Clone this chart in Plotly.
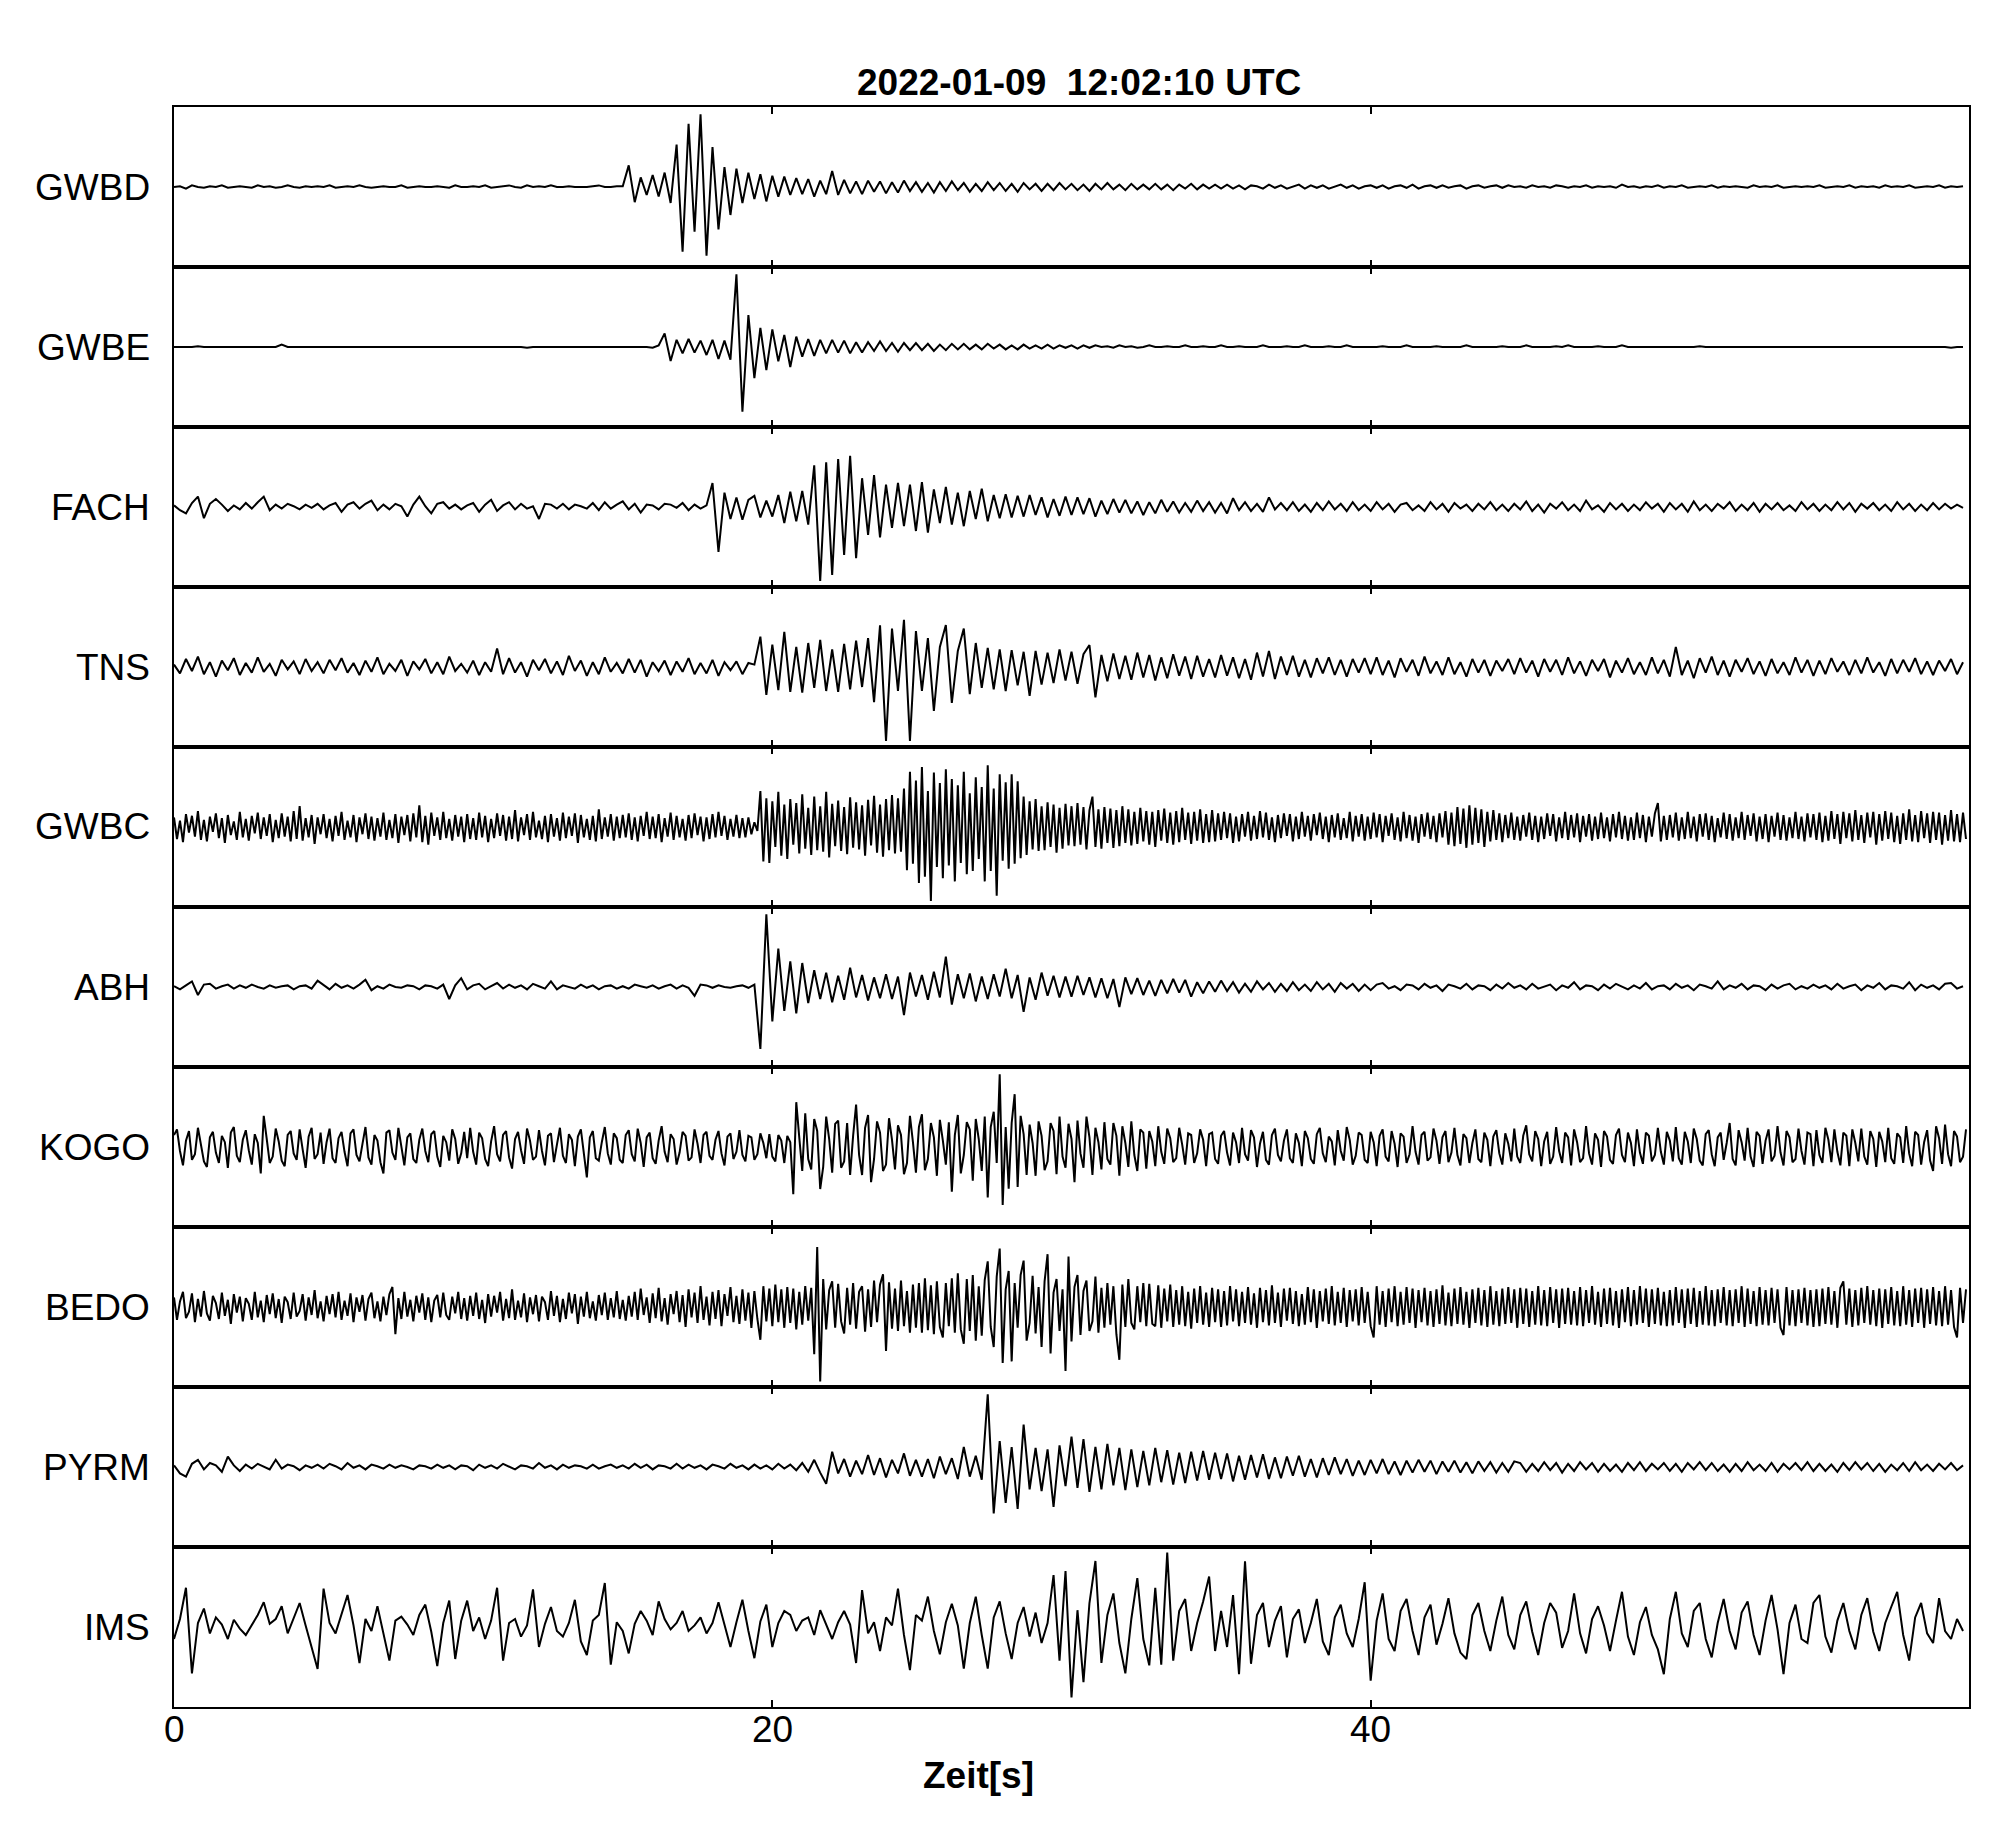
import numpy as np
import plotly.graph_objects as go
from plotly.subplots import make_subplots

T_END = 60.0  # seconds covered by every trace; samples are evenly spread over it

STATIONS = ["GWBD", "GWBE", "FACH", "TNS", "GWBC", "ABH", "KOGO", "BEDO", "PYRM", "IMS"]
TITLE = "2022-01-09  12:02:10 UTC"
XLABEL = "Zeit[s]"
XTICKS = [0, 20, 40]

# ---- traces (10 = half a panel) ----
GWBD = [
 0, 0.1, -0.2, 0.2, 0, -0.1, 0.1, 0, 0.2, -0.1, 0, 0.1, 0, -0.1, 0.2, 0, 0.1, -0.1, 0, 0.2, 0, -0.1, 0.1, 0, 0.1,
 0, 0.2, -0.1, 0, 0.1, 0, 0.2, 0, -0.1, 0, 0.1, 0, 0, 0.2, -0.1, 0, 0.1, 0, 0, 0.1, 0, -0.1, 0.2, 0, 0,
 0.1, 0, 0.2, -0.1, 0, 0.1, 0.2, 0, -0.1, 0.2, 0, 0.1, 0, 0.2, 0, 0, 0.1, 0, 0, 0, 0.1, 0.2, 0, 0, 0.1,
 0.1, 2.7, -1.9, 1.2, -1.0, 1.5, -1.2, 1.8, -2.0, 5.3, -8.1, 7.9, -5.6, 9.1, -8.6, 5.0, -5.3, 2.5, -3.5, 2.3, -2.0, 1.8, -1.5, 1.6, -1.8,
 1.4, -1.2, 1.3, -1.0, 1.1, -0.9, 1.0, -1.2, 0.8, -0.9, 2.0, -1.0, 0.9, -0.8, 0.7, -0.9, 0.8, -0.6, 0.7, -0.8, 0.6, -0.7, 0.8, -0.5, 0.6,
 -0.6, 0.5, -0.7, 0.6, -0.5, 0.7, -0.4, 0.5, -0.6, 0.4, -0.5, 0.6, -0.4, 0.5, -0.5, 0.4, -0.6, 0.5, -0.3, 0.4, -0.5, 0.4, -0.4, 0.5, -0.3,
 0.4, -0.4, 0.3, -0.5, 0.4, -0.3, 0.5, -0.3, 0.3, -0.4, 0.4, -0.3, 0.3, -0.3, 0.4, -0.3, 0.3, -0.4, 0.3, -0.2, 0.4, -0.3, 0.3, -0.2, 0.3,
 -0.2, 0.3, -0.2, 0.2, -0.3, 0.2, 0.1, -0.2, 0.3, -0.1, 0.2, -0.2, 0.1, 0.3, -0.2, 0.2, -0.1, 0.2, -0.2, 0.1, 0.3, -0.1, 0.2, -0.2, 0.1,
 0.2, -0.1, 0.2, -0.2, 0.1, 0.2, -0.1, 0.3, -0.2, 0.1, 0.2, -0.1, 0.2, -0.1, 0.1, 0.2, -0.2, 0.1, 0.2, -0.1, 0.1, 0.2, -0.1, 0.2, 0,
 0.1, -0.1, 0.2, 0, 0.1, -0.1, 0.2, 0.1, -0.1, 0.1, 0, 0.2, -0.1, 0.1, 0, 0.1, -0.1, 0.3, 0, 0.1, -0.1, 0.1, 0, 0.2, -0.1,
 0.1, 0, 0.2, -0.1, 0, 0.1, 0, 0.2, -0.1, 0.1, 0, 0.1, 0, -0.1, 0.2, 0, 0.1, 0, 0.2, -0.1, 0, 0.1, 0, 0.1, 0,
 0.2, -0.1, 0, 0.1, 0, 0.2, -0.1, 0.1, 0, 0.1, -0.1, 0.2, 0, 0.1, 0, 0.2, -0.1, 0, 0.1, 0, 0.2, -0.1, 0.1, 0, 0.1,
]

GWBE = [
 0, 0, 0, 0, 0.1, 0, 0, 0, 0, 0, 0, 0, 0, 0, 0, 0, 0, 0, 0.3, 0, 0, 0, 0, 0, 0,
 0, 0, 0, 0, 0, 0, 0, 0, 0, 0, 0, 0, 0, 0, 0, 0, 0, 0, 0, 0, 0, 0, 0, 0, 0,
 0, 0, 0, 0, 0, 0, 0, 0, 0, -0.1, 0, 0, 0, 0, 0, 0, 0, 0, 0, 0, 0, 0, 0, 0, 0,
 0, 0, 0, 0, 0, -0.1, 0.2, 1.7, -1.75, 0.9, -0.8, 1.0, -0.7, 0.8, -1.0, 0.9, -1.5, 0.8, -1.6, 9.1, -8.1, 4.0, -3.9, 2.4, -2.9,
 2.2, -1.8, 1.5, -2.5, 1.3, -1.2, 1.0, -1.1, 0.9, -0.8, 0.9, -0.7, 0.8, -0.8, 0.6, -0.7, 0.6, -0.5, 0.7, -0.5, 0.5, -0.6, 0.5, -0.4, 0.5,
 -0.4, 0.4, -0.5, 0.3, -0.4, 0.4, -0.3, 0.4, -0.3, 0.3, -0.3, 0.4, -0.2, 0.3, -0.3, 0.2, -0.3, 0.3, -0.2, 0.2, -0.2, 0.3, -0.2, 0.2, -0.1,
 0.2, -0.2, 0.2, -0.1, 0.2, 0, 0.1, -0.1, 0.2, 0, 0.1, -0.1, 0, 0.2, 0, 0, 0.1, 0, 0, 0.2, 0, 0, 0.1, 0, 0,
 0.2, 0, 0, 0.1, 0, 0, 0, 0.2, 0, 0, 0, 0.1, 0, 0, 0.2, 0, 0, 0, 0.1, 0, 0, 0.2, 0, 0, 0,
 0, 0, 0.1, 0, 0, 0, 0.2, 0, 0, 0, 0, 0.1, 0, 0, 0, 0, 0.2, 0, 0, 0, 0, 0, 0.1, 0, 0,
 0, 0.2, 0, 0, 0, 0, 0.1, 0, 0.2, 0, 0, 0, 0, 0.1, 0, 0, 0, 0.2, 0, 0, 0, 0, 0, 0, 0,
 0, 0, 0, 0, 0, 0.1, 0, 0, 0, 0, 0, 0, 0, 0, 0, 0, 0, 0, 0, 0, 0, 0, 0, 0, 0,
 0, 0, 0, 0, 0, 0, 0, 0, 0, 0, 0, 0, 0, 0, 0, 0, 0, 0, 0, 0, 0, 0, -0.1, 0, 0,
]

FACH = [
 0.2, -0.4, -0.8, 0.5, 1.3, -1.4, 0.4, 1.0, 0.3, -0.5, 0.2, -0.3, 0.5, -0.2, 0.6, 1.3, -0.4, 0.3, -0.2, 0.4, 0.1, -0.3, 0.3, -0.1, 0.4,
 -0.3, 0.2, 0.5, -0.6, 0.3, 0.6, -0.2, 0.4, 0.8, -0.4, 0.3, -0.3, 0.4, 0.1, -1.2, 0.3, 1.3, 0.1, -0.8, 0.4, 0.6, -0.2, 0.3, -0.3, 0.2,
 0.5, -0.6, 0.3, 0.9, -0.5, 0.2, 0.6, -0.3, 0.4, -0.2, 0.1, -1.5, 0.4, 0.3, -0.2, 0.4, -0.3, 0.3, 0.1, -0.2, 0.5, -0.4, 0.6, -0.2, 0.3,
 0.7, -0.3, 0.4, -0.7, 0.3, 0.2, -0.3, 0.4, 0.3, -0.1, 0.5, -0.4, 0.3, -0.2, 0.2, 3.0, -5.6, 1.8, -1.5, 1.2, -1.6, 0.9, 1.4, -1.3, 0.8,
 -1.2, 1.5, -2.0, 1.9, -1.8, 2.0, -2.2, 5.2, -9.25, 5.6, -8.5, 6.0, -6.0, 6.4, -6.4, 3.6, -3.5, 4.0, -3.8, 2.8, -2.6, 3.0, -2.4, 2.8, -3.0,
 3.1, -3.2, 2.2, -2.0, 2.5, -2.2, 1.8, -2.4, 2.0, -1.5, 2.3, -1.8, 1.5, -1.4, 1.6, -1.3, 1.4, -1.2, 1.5, -1.0, 1.2, -1.3, 1.0, -1.1, 1.3,
 -1.0, 1.2, -0.9, 1.1, -1.2, 0.8, -0.9, 1.0, -0.7, 0.9, -0.8, 0.7, -1.0, 0.6, -0.8, 0.9, -0.6, 0.7, -0.7, 0.5, -0.6, 0.8, -0.5, 0.6, -0.7,
 0.5, -0.8, 1.1, -0.4, 0.6, -0.5, 0.4, -0.6, 1.2, -0.3, 0.5, -0.4, 0.6, -0.5, 0.3, -0.6, 0.5, -0.4, 0.7, -0.3, 0.4, -0.5, 0.6, -0.4, 0.3,
 -0.5, 0.6, -0.3, 0.4, -0.6, 0.3, 0.5, -0.4, 0.2, -0.5, 0.6, -0.3, 0.4, -0.6, 0.5, -0.2, 0.3, -0.5, 0.4, -0.3, 0.6, -0.4, 0.3, -0.5, 0.4,
 -0.3, 0.7, -0.5, 0.3, -0.7, 0.4, -0.2, 0.6, -0.4, 0.3, -0.5, 0.8, -0.3, 0.2, -0.6, 0.5, -0.3, 0.4, -0.5, 0.3, -0.4, 0.6, -0.2, 0.4, -0.6,
 0.5, -0.3, 0.4, -0.6, 0.7, -0.4, 0.3, -0.5, 0.4, -0.2, 0.6, -0.5, 0.3, -0.4, 0.5, -0.6, 0.4, -0.3, 0.5, -0.4, 0.2, -0.5, 0.6, -0.3, 0.4,
 -0.5, 0.3, -0.4, 0.6, -0.3, 0.5, -0.6, 0.4, -0.2, 0.5, -0.4, 0.3, -0.5, 0.6, -0.3, 0.4, -0.5, 0.3, -0.4, 0.5, -0.3, 0.4, -0.2, 0.3, -0.1,
]

TNS = [
 0.3, -0.8, 1.0, -0.5, 1.3, -0.9, 0.6, -1.2, 0.8, -0.4, 1.1, -1.0, 0.5, -0.7, 1.2, -0.6, 0.4, -1.1, 0.9, -0.3, 0.7, -0.9, 1.0, -0.5, 0.6,
 -0.8, 0.9, -0.4, 1.1, -0.7, 0.5, -1.0, 0.8, -0.6, 1.2, -0.9, 0.4, -0.5, 0.9, -1.1, 0.7, -0.3, 1.0, -0.8, 0.6, -0.9, 1.3, -0.5, 0.4, -0.7,
 0.8, -1.0, 0.6, -0.6, 2.3, -0.9, 1.1, -0.7, 0.6, -1.2, 0.9, -0.4, 1.0, -0.8, 0.7, -1.0, 1.4, -0.5, 0.8, -1.1, 0.6, -0.9, 1.2, -0.6, 0.5,
 -0.8, 1.0, -0.7, 0.9, -1.2, 0.6, -0.5, 0.8, -1.0, 0.7, -0.6, 1.1, -0.9, 0.5, -0.8, 0.9, -1.1, 0.6, -0.4, 0.7, -0.9, 0.5, 0.3, 3.8, -3.5,
 2.8, -2.9, 4.4, -3.1, 2.5, -3.2, 3.0, -2.6, 3.4, -3.0, 2.2, -3.1, 2.9, -2.8, 3.3, -2.5, 3.6, -4.4, 5.2, -9.25, 4.8, -3.0, 5.9, -9.25, 4.5,
 -3.0, 3.6, -5.5, 2.5, 5.25, -4.5, 2.0, 4.8, -3.4, 3.0, -2.6, 2.4, -2.8, 2.2, -3.0, 2.1, -2.3, 1.9, -3.6, 2.0, -2.2, 1.8, -2.0, 2.2, -1.7,
 1.9, -2.1, 1.6, 2.75, -3.8, 1.5, -1.8, 1.7, -1.5, 1.4, -1.6, 1.8, -1.3, 1.5, -1.7, 1.2, -1.4, 1.6, -1.1, 1.3, -1.5, 1.4, -1.2, 1.0, -1.3,
 1.5, -1.1, 1.2, -1.4, 1.0, -1.6, 1.8, -1.2, 2.0, -1.5, 1.3, -1.0, 1.4, -1.2, 0.9, -1.3, 1.1, -0.8, 1.2, -1.0, 0.9, -1.2, 1.0, -0.7, 1.1,
 -0.9, 1.2, -1.0, 0.8, -1.3, 1.1, -0.6, 0.9, -1.1, 1.3, -0.8, 0.7, -1.0, 1.2, -0.9, 0.6, -1.2, 1.0, -0.7, 0.9, -1.1, 0.8, -0.5, 1.0, -0.9,
 1.1, -0.7, 0.8, -1.2, 1.0, -0.6, 0.9, -1.0, 1.2, -0.8, 0.7, -1.1, 0.9, -0.5, 1.0, -1.3, 0.8, -0.7, 1.1, -0.9, 0.6, -1.0, 1.2, -0.8, 0.9,
 -1.2, 2.5, -1.0, 0.8, -1.4, 1.1, -0.7, 1.3, -1.0, 0.8, -1.2, 0.9, -0.6, 1.1, -0.9, 0.7, -1.1, 1.0, -0.8, 0.6, -1.0, 1.2, -0.7, 0.9, -1.1,
 0.8, -0.9, 1.1, -0.6, 0.7, -1.0, 0.9, -0.8, 1.2, -0.7, 0.6, -1.1, 1.0, -0.8, 0.9, -0.6, 1.1, -0.9, 0.7, -1.0, 0.8, -0.5, 1.0, -0.9, 0.6,
]

GWBC = [
 1.2, -1.5, 0.8, -1.9, 1.6, -0.7, 1.4, -1.2, 2.0, -1.6, 0.9, -1.8, 1.3, -0.6, 1.7, -1.4, 1.1, -2.0, 1.5, -1.0, 0.7, -1.6, 1.9, -1.3, 1.0, -1.7, 1.4, -0.8, 1.8, -1.5, 1.2, -1.1, 1.6, -1.9, 0.9, -1.4, 1.7, -1.2, 1.3, -1.8, 2.0, -1.5, 2.6, -1.7, 1.1, -1.3, 1.5, -2.1, 1.2, -0.9,
 1.6, -1.4, 1.0, -1.8, 1.4, -1.1, 1.9, -1.6, 0.8, -1.3, 1.5, -1.9, 1.2, -0.9, 1.7, -1.5, 1.3, -1.7, 1.1, -1.2, 1.8, -1.6, 0.9, -1.4, 1.6, -2.0, 1.3, -1.0, 1.5, -1.8, 1.7, -1.3, 2.7, -1.9, 1.4, -2.2, 1.8, -1.1, 1.2, -1.6, 1.9, -1.4, 1.0, -1.7, 1.5, -1.2, 1.3, -1.9, 1.6, -1.5,
 1.1, -1.6, 1.8, -1.3, 1.4, -1.9, 1.0, -1.4, 1.7, -1.1, 1.5, -1.7, 1.3, -1.5, 2.1, -1.8, 1.2, -1.0, 1.6, -1.6, 1.9, -1.3, 0.8, -1.5, 1.4, -1.9, 1.6, -1.2, 1.1, -1.7, 1.8, -1.4, 1.3, -1.1, 1.7, -2.0, 1.5, -1.3, 1.0, -1.6, 1.4, -1.8, 2.2, -1.5, 1.2, -1.2, 1.6, -1.7, 1.3, -1.4,
 1.5, -1.3, 1.7, -1.6, 1.2, -1.8, 1.4, -1.1, 1.9, -1.5, 1.3, -1.4, 1.6, -1.9, 1.1, -1.2, 1.8, -1.6, 1.4, -1.3, 1.0, -1.7, 1.5, -1.4, 1.7, -1.0, 1.3, -1.8, 1.2, -1.5, 1.6, -1.3, 1.9, -1.1, 1.4, -1.6, 1.0, -1.2, 1.5, -1.4, 1.1, -1.3, 1.2, -0.9, 0.6, -0.5, 4.5, -4.3, 3.6, -4.5,
 3.2, -2.5, 4.4, -3.6, 2.8, -4.0, 3.5, -2.2, 3.0, -3.3, 4.1, -2.7, 2.4, -3.5, 3.8, -2.9, 2.6, -3.1, 4.4, -3.8, 2.9, -2.4, 3.3, -3.0, 2.5, -3.4, 3.7, -2.6, 3.1, -2.8, 2.7, -3.6, 3.4, -2.3, 3.9, -3.2, 2.8, -3.7, 3.5, -2.9, 4.0, -3.3, 3.6, -3.1, 4.8, -5.4, 6.9, -4.6, 5.8, -7.0,
 7.5, -6.2, 4.5, -9.25, 6.8, -5.0, 5.5, -6.4, 7.2, -4.8, 6.0, -6.8, 5.2, -4.5, 6.9, -5.9, 4.2, -5.5, 6.2, -4.0, 5.0, -6.8, 7.7, -5.5, 4.8, -8.6, 6.6, -4.2, 5.6, -5.2, 6.6, -4.6, 5.7, -3.9, 3.8, -3.5, 3.2, -2.8, 3.5, -3.0, 2.6, -2.9, 3.1, -2.5, 2.8, -3.2, 2.4, -2.7, 2.9, -2.3,
 2.6, -2.4, 3.0, -2.2, 2.5, -2.8, 2.1, 3.8, -2.5, 2.2, -2.7, 2.5, -2.0, 2.3, -2.6, 2.1, -2.4, 2.6, -2.0, 2.2, -2.3, 1.9, -2.1, 2.4, -1.8, 2.0, -2.2, 1.9, -2.5, 2.1, -1.7, 2.3, -2.0, 1.8, -2.2, 2.0, -1.9, 2.4, -1.6, 1.8, -2.1, 1.9, -1.7, 2.2, -2.0, 1.6, -1.9, 2.1, -1.8, 1.7,
 -1.6, 1.9, -1.4, 1.7, -2.0, 1.3, -1.8, 1.6, -1.2, 1.9, -1.7, 1.4, -1.5, 2.0, -1.3, 1.8, -1.6, 1.2, -1.9, 1.5, -1.4, 1.7, -1.1, 1.6, -1.8, 1.3, -1.5, 1.9, -1.2, 1.4, -1.7, 1.6, -1.0, 1.8, -1.5, 1.3, -1.9, 1.5, -1.3, 1.7, -1.6, 1.1, -1.4, 1.9, -1.8, 1.4, -1.2, 1.6, -1.7, 1.3,
 -1.5, 1.8, -1.3, 1.6, -1.9, 1.4, -1.1, 1.7, -1.6, 1.2, -1.8, 1.9, -1.4, 1.5, -1.7, 1.3, -2.0, 1.6, -1.2, 1.8, -1.5, 1.4, -1.9, 1.7, -1.3, 2.0, -2.2, 1.8, -2.4, 2.5, -2.1, 2.3, -2.6, 2.7, -2.2, 2.4, -2.0, 2.2, -2.5, 1.9, -1.8, 2.1, -1.6, 1.7, -1.9, 1.5, -1.4, 1.8, -1.6, 1.3,
 -1.7, 1.5, -1.2, 1.8, -1.6, 1.4, -1.9, 1.3, -1.5, 1.7, -1.1, 1.6, -1.8, 1.2, -1.4, 1.9, -1.6, 1.5, -1.3, 1.7, -1.9, 1.4, -1.2, 1.6, -1.7, 1.3, -1.5, 1.8, -1.4, 1.2, -1.8, 1.6, -1.3, 1.9, -1.5, 1.4, -1.7, 1.2, -1.6, 1.8, -1.4, 1.5, -1.9, 1.3, -1.2, 1.7, 3.0, -1.8, 1.4, -1.6,
 1.5, -1.3, 1.8, -1.7, 1.2, -1.5, 1.9, -1.4, 1.3, -1.8, 1.6, -1.2, 1.7, -1.6, 1.4, -1.9, 1.1, -1.3, 1.8, -1.5, 1.6, -1.7, 1.2, -1.4, 1.9, -1.6, 1.5, -1.1, 1.7, -1.8, 1.3, -1.5, 1.6, -1.9, 1.4, -1.2, 1.8, -1.6, 1.5, -1.7, 1.2, -1.4, 1.9, -1.5, 1.3, -1.8, 1.7, -1.3, 1.6, -1.6,
 1.8, -1.9, 1.4, -1.7, 2.0, -1.5, 1.6, -2.1, 1.9, -1.4, 1.7, -1.8, 2.1, -1.6, 1.5, -2.0, 1.8, -1.3, 1.9, -2.2, 1.6, -1.7, 2.0, -1.5, 1.8, -1.9, 1.4, -2.1, 1.7, -1.6, 2.2, -1.8, 1.5, -1.9, 2.0, -1.4, 1.7, -2.0, 1.9, -1.6, 1.8, -2.2, 1.5, -1.7, 2.1, -1.8, 1.6, -1.9, 1.8, -1.5,
]

ABH = [
 0.1, -0.3, 0.2, 0.7, -1.0, 0.3, 0.4, -0.2, 0.1, 0.3, -0.2, 0.2, -0.1, 0.3, 0, -0.2, 0.2, -0.1, 0.1, 0.2, -0.3, 0.1, 0.2, -0.2, 0.8,
 0.2, -0.3, 0.4, -0.1, 0.2, -0.2, 0.3, 0.9, -0.4, 0.1, -0.2, 0.3, 0, -0.1, 0.2, 0.1, -0.3, 0.2, 0.1, -0.2, 0.3, -1.5, 0.2, 1.1, -0.3,
 0.2, 0.4, -0.3, 0.1, 0.5, -0.2, 0.3, -0.1, 0.2, -0.3, 0.4, 0.1, -0.2, 0.7, -0.3, 0.2, 0, -0.2, 0.3, -0.1, 0.2, -0.3, 0.1, 0.2, -0.2,
 0.1, -0.2, 0.3, 0.1, -0.1, 0.2, -0.2, 0.1, 0.3, -0.2, 0.2, -0.1, -1.1, 0.3, 0.2, -0.1, 0.2, 0, -0.1, 0.1, 0.2, -0.1, 0.3, -7.75, 9.1,
 -4.3, 4.8, -3.0, 3.2, -3.3, 3.0, -2.0, 2.1, -1.5, 1.8, -1.9, 1.4, -1.6, 2.4, -1.3, 1.5, -1.7, 1.2, -1.4, 1.6, -1.5, 1.3, -3.5, 1.8, -1.2,
 1.5, -1.6, 1.9, -1.3, 3.8, -2.2, 1.6, -1.4, 1.7, -1.8, 1.3, -1.5, 1.6, -1.2, 2.3, -1.4, 1.5, -3.1, 1.2, -1.6, 1.8, -1.1, 1.4, -1.3, 1.3,
 -1.2, 1.4, -1.0, 1.2, -1.3, 1.1, -1.4, 1.0, -2.5, 1.2, -0.9, 1.1, -1.0, 0.8, -1.1, 0.9, -0.8, 1.0, -0.7, 0.9, -1.2, 0.6, -0.8, 0.7, -0.6,
 0.8, -0.5, 0.6, -0.7, 0.4, -0.6, 0.7, -0.3, 0.5, -0.6, 0.4, -0.5, 0.6, -0.4, 0.3, -0.5, 0.6, -0.3, 0.4, -0.6, 0.5, -0.2, 0.4, -0.5, 0.3,
 -0.4, 0.3, 0.5, -0.2, 0.1, -0.4, 0.3, 0.2, -0.3, 0.4, -0.1, 0.2, -0.5, 0.3, 0.1, -0.2, 0.4, -0.3, 0.2, 0.1, -0.4, 0.3, -0.2, 0.5, -0.1,
 0.2, -0.3, 0.4, -0.2, 0.1, 0.3, -0.4, 0.2, -0.1, 0.6, -0.3, 0.2, 0.1, -0.4, 0.3, -0.2, 0.4, 0.1, -0.3, 0.2, -0.2, 0.5, -0.3, 0.1, 0.2,
 -0.3, 0.4, -0.1, 0.2, -0.4, 0.3, 0.1, -0.2, 0.7, -0.3, 0.2, -0.1, 0.4, -0.3, 0.2, 0.1, -0.4, 0.3, -0.2, 0.2, 0.4, -0.3, 0.1, -0.2, 0.3,
 -0.1, 0.2, -0.3, 0.4, -0.2, 0.1, 0.3, -0.4, 0.2, -0.1, 0.5, -0.3, 0.2, 0.1, -0.2, 0.6, -0.4, 0.3, -0.1, 0.2, -0.3, 0.4, 0.5, -0.2, 0.1,
]

KOGO = [
 1.5, 2.2, -0.5, -2.3, 0.8, 2.0, -1.6, -0.9, 2.4, 0.3, -1.8, -2.5, 1.2, 1.9, -0.7, -2.0, 1.4, 0.6, -2.6, 1.8, 2.5, -1.1, -1.9, 0.9, 2.1, -0.4, -2.2, 1.6, 0.5, -3.3, 3.9, 1.0, -2.0, -1.2, 2.3, 0.7, -1.7, -2.4, 1.5, 2.0, -0.8, -1.6, 2.2, -0.3, -2.6, 1.3, 2.4, -1.5, -0.9, 1.8,
 -2.1, 0.6, 2.3, -1.4, -2.0, 1.1, 1.9, -0.6, -2.4, 1.7, 2.2, -1.0, -1.8, 0.4, 2.5, -1.3, -2.2, 1.5, 0.8, -1.9, -3.3, 1.8, 2.1, -0.7, -1.6, 2.4, 0.2, -2.3, 1.2, 1.7, -1.5, -2.0, 0.9, 2.3, -0.5, -1.9, 1.6, 2.0, -1.2, -2.5, 1.4, 0.6, -1.7, 2.2, 1.0, -2.1, -0.8, 1.9, -1.4, 2.4,
 -0.6, -2.2, 1.8, 1.1, -1.5, -2.4, 0.7, 2.6, -0.9, -1.8, 1.5, 2.0, -1.3, -2.7, 1.0, 1.9, -0.4, -2.1, 2.3, 0.8, -1.6, -1.2, 2.1, -0.5, -2.3, 1.4, 1.7, -1.9, 0.3, 2.4, -1.1, -2.0, 1.6, 0.9, -2.4, 1.3, 2.2, -0.7, -3.8, 1.2, 2.0, -1.4, -1.7, 0.6, 2.5, -0.8, -2.2, 1.7, 1.1, -1.6,
 -2.0, 1.5, 2.1, -0.9, -1.8, 2.3, 0.5, -2.5, 1.2, 1.8, -1.4, -2.1, 0.8, 2.6, -0.6, -1.9, 1.6, 1.0, -2.2, -0.7, 1.9, 1.4, -1.7, -1.3, 2.2, 0.4, -2.0, 1.5, 1.9, -1.1, -1.6, 0.9, 2.0, -0.8, -2.3, 1.3, 1.7, -1.5, -0.6, 2.1, -1.0, -1.8, 1.4, 1.2, -1.6, -0.9, 1.7, 0.5, -1.4, 1.6,
 -1.2, -1.8, 1.5, 0.8, -2.0, 1.4, 0.6, -5.9, 5.6, 1.2, -3.0, 4.2, -1.5, -2.8, 3.5, 2.0, -5.25, -2.5, 3.8, 1.0, -3.2, 2.9, 3.3, -2.6, -1.8, 3.0, -3.5, 1.4, 5.3, -1.0, -3.5, 2.4, 4.0, -4.4, -1.5, 3.2, 1.8, -3.0, -2.2, 3.6, 0.9, -2.8, 2.7, 1.5, -3.4, -2.0, 3.9, 0.6, -3.2, 2.5,
 4.1, -2.9, -1.5, 3.0, 1.2, -3.6, 3.4, 0.8, -2.2, 3.1, -5.6, 1.5, 4.0, -3.3, -1.0, 3.1, 2.2, -4.2, 3.5, 1.0, -3.0, 3.8, -6.3, 2.5, 4.4, -2.0, 9.1, -7.25, 2.5, -5.2, 3.0, 6.6, -5.0, 3.9, 1.6, -3.5, 2.8, 0.5, -3.6, 3.2, 1.4, -2.9, -1.8, 3.0, 2.0, -3.4, 3.8, -1.2, -2.6, 2.9,
 1.0, -4.4, 3.3, -0.8, -2.6, 3.8, 1.2, -3.5, 2.4, 0.6, -2.8, 3.1, -1.5, -2.2, 3.0, 1.4, -3.6, 2.6, 0.5, -2.5, 3.2, -1.0, -3.0, 2.2, 1.8, -2.7, 2.0, 0.7, -2.4, 2.6, -0.6, -2.1, 2.3, 1.1, -1.9, -1.4, 2.4, 0.3, -2.2, 1.7, 1.5, -2.0, -0.8, 2.2, 0.9, -2.4, 1.6, 1.8, -1.5, -2.1,
 1.4, 2.0, -0.7, -2.3, 1.8, 0.6, -2.0, 2.4, -0.9, -1.7, 2.1, 1.2, -2.5, 0.4, 1.9, -1.6, -2.2, 1.5, 2.3, -1.0, -1.8, 0.8, 2.2, -1.4, -2.0, 1.7, 0.5, -2.4, 2.0, 1.1, -1.5, -2.1, 1.6, 2.4, -0.8, -1.9, 1.3, 0.7, -2.3, 2.1, -0.5, -1.7, 2.5, 0.9, -2.2, -1.1, 1.8, 1.5, -1.6, -2.0,
 1.9, 0.6, -2.4, 1.4, 2.2, -1.2, -1.8, 2.0, 0.4, -2.5, 1.7, 1.3, -2.0, -0.9, 2.6, -0.6, -2.2, 1.5, 1.9, -1.7, -1.3, 2.3, 0.8, -2.1, 1.2, 2.0, -1.9, -0.7, 2.4, -1.0, -2.3, 1.6, 1.1, -2.0, 0.5, 2.2, -1.5, -1.9, 1.8, 0.9, -2.4, 1.3, 2.1, -0.8, -2.2, 1.7, 0.4, -1.8, 2.3, -1.2,
 -2.0, 1.4, 2.7, -0.9, -1.8, 2.0, 1.0, -2.4, 0.7, 1.9, -2.1, -1.2, 2.5, -0.5, -2.0, 1.8, 1.2, -2.3, 2.2, 0.6, -1.9, -1.4, 2.6, -0.8, -2.2, 1.7, 0.9, -2.5, 2.0, 1.3, -1.6, -2.1, 1.5, 2.3, -1.0, -1.9, 1.8, 0.5, -2.4, 2.2, -0.7, -2.1, 1.8, 1.4, -1.8, -1.0, 2.4, -0.6, -2.2, 1.9,
 0.8, -1.8, 2.5, -1.4, -2.2, 1.9, 0.7, -2.0, 2.3, 1.0, -1.7, -2.3, 1.6, 2.1, -0.9, -2.4, 1.2, 1.8, -1.6, 0.5, 3.0, -1.5, -2.3, 2.1, 0.6, -1.7, 2.4, -1.2, -2.5, 1.9, 1.4, -2.1, 0.8, 2.2, -1.8, -1.1, 2.6, -0.7, -2.3, 2.0, 1.2, -1.9, -1.5, 2.3, -0.5, -2.2, 1.8, 1.6, -2.4, 2.1,
 -1.0, -2.0, 2.4, 0.9, -1.9, 2.2, -0.6, -2.3, 1.8, 1.4, -2.4, 2.2, 0.5, -1.8, 2.3, -1.2, -2.2, 2.0, 1.0, -2.5, 1.9, 0.7, -1.9, 2.4, -1.4, -2.1, 1.7, 1.2, -2.0, 2.6, -0.8, -2.4, 1.9, 1.5, -2.2, 0.6, 2.1, -1.7, -3.0, 2.6, 1.1, -2.1, 2.8, -0.9, -2.4, 2.0, 1.3, -1.9, -1.2, 2.2,
]

BEDO = [
 1.2, -1.6, 0.7, 1.9, -1.4, -0.6, 1.7, -1.9, 1.0, -1.2, 2.0, -0.8, -1.7, 1.4, 0.5, -1.5, 1.8, -1.1, 0.9, -2.1, 1.6, -0.7, 1.3, -1.8, 1.1, 0.4, -1.6, 1.9, -1.3, 0.8, -1.9, 1.5, -0.9, 1.7, -1.4, 1.0, -2.0, 1.3, 0.6, -1.5, 1.8, -1.2, -0.5, 1.6, -1.7, 1.2, -1.0, 2.1, -1.4, 0.7,
 -1.8, 1.4, -0.9, 1.6, -1.3, 1.9, -1.6, 0.8, -1.1, 1.7, -1.9, 1.2, -0.6, 1.5, -1.7, 1.0, 1.8, -1.4, 0.7, -1.8, 1.3, -1.0, 1.6, 2.5, -3.4, 1.1, -1.5, 1.9, -1.2, 0.9, -1.8, 1.4, -0.7, 1.7, -1.6, 1.2, -1.9, 0.8, 1.5, -1.3, 1.8, -1.0, -1.6, 1.3, -0.8, 1.9, -1.5, 1.1, -1.7, 1.4,
 -1.1, 1.8, -1.5, 0.9, -2.0, 1.6, -1.2, 1.4, -0.7, 1.9, -1.7, 1.0, -1.4, 2.2, -1.6, 0.8, -1.3, 1.7, -1.9, 1.2, -0.9, 1.5, -1.8, 1.3, 0.6, -1.6, 2.0, -1.1, 1.4, -1.9, 1.0, -1.5, 1.8, -0.8, 1.6, -2.1, 1.3, -1.2, 1.9, -1.4, 0.7, -1.7, 1.5, -1.0, 1.8, -1.6, 1.1, -1.3, 2.0, -1.5,
 0.9, -1.7, 1.4, -1.2, 1.9, -1.6, 2.3, -1.0, 1.2, -2.0, 1.7, -1.4, 2.4, -1.8, 1.1, -2.2, 1.6, -0.9, 2.0, -1.9, 1.5, -2.5, 2.2, -1.3, 1.8, -2.0, 2.6, -1.6, 1.3, -2.3, 1.9, -1.5, 2.1, -2.4, 1.6, -1.1, 2.5, -1.9, 1.4, -2.1, 2.2, -1.7, 1.8, -2.6, 2.0, -1.5, -4.1, 2.6, -1.8, 2.3,
 -2.4, 2.8, -1.9, 2.2, -2.6, 2.5, -2.0, 2.3, -2.8, 1.9, -2.2, 2.6, -1.7, 2.4, -5.9, 7.5, -9.3, 3.5, -2.8, 2.1, 3.2, -2.6, 2.9, -1.8, -3.3, 2.4, -2.2, 3.0, -2.7, 1.9, 2.6, -3.1, 2.2, -2.5, 3.3, -1.9, 2.8, 4.1, -5.5, 3.1, -2.7, 2.3, -3.0, 3.3, -2.4, 2.0, -3.2, 2.8, -2.6, 3.0,
 -3.2, 3.6, -2.9, 2.7, -3.4, 3.2, -2.5, -3.8, 3.0, -2.4, 3.6, -3.2, 4.2, -2.8, -4.6, 3.5, -3.0, 4.0, -4.2, 2.6, -3.6, 3.4, 5.7, -2.5, -5.0, 3.8, 7.3, -7.0, 2.2, 4.5, -6.8, 3.0, -2.6, 4.0, 5.8, -4.2, -2.0, 3.9, -3.3, 2.5, -5.0, 3.2, 6.6, -5.8, 1.8, 3.5, -3.0, 2.2, -8.0, 6.3,
 -4.3, 2.5, 4.0, -3.5, 2.0, 3.3, -3.0, -1.8, 3.8, -3.2, 2.4, -2.6, 3.0, -2.2, 2.6, -3.4, -6.6, 2.8, -2.5, 3.5, -2.0, -2.8, 2.6, -1.9, 3.0, -2.4, 2.9, -2.1, -2.4, 2.7, -2.6, 2.3, -1.8, 2.8, -2.5, 2.1, -2.2, 2.6, -2.4, 1.9, -2.7, 2.3, -2.0, 2.6, -2.2, 1.8, -2.5, 2.4, -1.9, 2.2,
 -2.5, 2.0, -2.3, 2.6, -1.8, 2.2, -2.4, 1.9, -2.0, 2.5, -2.2, 1.7, -2.6, 2.4, -1.9, 2.1, -2.3, 2.7, -2.0, 1.8, -2.5, 2.3, -1.7, 2.4, -2.1, 2.0, -2.4, 1.6, -2.2, 2.5, -1.9, 2.2, -2.6, 2.0, -1.8, 2.3, -2.1, 2.6, -2.3, 1.9, -2.0, 2.4, -2.5, 2.1, -1.8, 2.2, -2.3, 2.5, -2.0, 1.9,
 -2.4, -3.8, 2.6, -2.2, 2.0, -2.5, 2.3, -1.9, 2.6, -2.4, 1.9, -2.2, 2.5, -2.0, 2.3, -2.6, 2.1, -1.9, 2.4, -2.3, 2.0, -2.5, 2.2, -2.1, 2.7, -2.3, 1.8, -2.4, 2.3, -2.1, 2.5, -2.2, 1.9, -2.6, 2.2, -2.0, 2.4, -2.3, 2.1, -2.5, 2.6, -2.2, 2.0, -2.4, 2.3, -2.1, 2.5, -2.0, 2.2, -2.6,
 2.4, -2.1, 2.3, -2.5, 2.0, -2.2, 2.6, -2.3, 2.1, -2.4, 2.5, -2.0, 2.2, -2.6, 2.3, -2.1, 2.4, -2.2, 2.0, -2.3, 2.5, -2.4, 2.1, -2.0, 2.6, -2.2, 1.9, -2.5, 2.3, -2.1, 2.4, -2.3, 2.0, -2.6, 2.2, -1.9, 2.5, -2.4, 2.1, -2.2, 2.6, -2.0, 2.3, -2.5, 2.2, -2.1, 2.4, -2.3, 1.9, -2.4,
 2.1, -2.3, 2.5, -2.0, 2.2, -2.6, 2.3, -2.1, 2.4, -2.5, 2.0, -2.2, 2.6, -2.3, 2.1, -2.4, 2.2, -2.0, 2.5, -2.3, 2.1, -2.4, 2.2, -2.0, 2.6, -2.5, 2.3, -2.1, 2.0, -2.4, 2.5, -2.2, 2.1, -2.3, 2.4, -2.0, 2.2, -2.6, -3.5, 2.5, -2.3, 2.1, -2.4, 2.2, -2.0, 2.4, -2.3, 2.1, -2.5, 2.2,
 -2.4, 2.3, -2.1, 2.5, -2.2, 2.0, -2.6, 2.4, 3.2, -2.2, 2.3, -2.5, 2.1, -2.3, 2.4, -2.0, 2.6, -2.2, 2.1, -2.4, 2.3, -2.6, 2.2, -2.1, 2.5, -2.3, 2.0, -2.4, 2.6, -2.2, 2.1, -2.5, 2.3, -2.0, 2.4, -2.6, 2.2, -2.1, 2.5, -2.3, 2.0, -2.4, 2.6, -2.2, 2.1, -2.5, -3.8, 2.4, -2.0, 2.2,
]

PYRM = [
 0.2, -0.8, -1.2, 0.4, 0.9, -0.3, 0.5, 0.2, -0.6, 1.3, 0.2, -0.5, 0.3, -0.2, 0.4, 0.1, -0.3, 0.9, -0.2, 0.3, 0.1, -0.4, 0.2, -0.1, 0.3,
 -0.2, 0.4, 0.1, -0.3, 0.5, -0.1, 0.2, -0.3, 0.3, 0.1, -0.2, 0.3, -0.1, 0.2, 0, -0.3, 0.2, 0.1, -0.2, 0.3, -0.1, 0.2, -0.3, 0.2, 0.1,
 -0.4, 0.3, -0.1, 0.2, -0.2, 0.4, 0, -0.3, 0.2, 0.1, -0.2, 0.5, -0.1, 0.2, -0.3, 0.3, -0.1, 0.2, 0.1, -0.2, 0.3, -0.2, 0.1, 0.3, -0.1,
 0.2, -0.2, 0.4, -0.1, 0.3, -0.3, 0.2, 0.1, -0.2, 0.4, -0.2, 0.3, -0.1, 0.2, -0.3, 0.3, 0.1, -0.2, 0.4, -0.1, 0.2, -0.3, 0.3, -0.2, 0.2,
 -0.3, 0.4, -0.2, 0.3, -0.4, 0.5, -0.6, 0.9, -0.7, -2.1, 1.9, -0.8, 1.0, -1.2, 0.8, -0.9, 1.5, -1.0, 1.1, -1.3, 0.9, -0.8, 1.7, -1.1, 0.9,
 -1.2, 1.0, -1.4, 1.3, -0.9, 1.1, -1.5, 2.5, -1.2, 1.4, -1.6, 9.1, -5.8, 3.25, -4.5, 2.5, -5.25, 5.3, -2.8, 2.4, -3.0, 2.2, -5.0, 2.7, -2.4,
 3.8, -2.6, 3.5, -3.1, 2.5, -2.8, 2.9, -2.3, 2.4, -2.9, 2.2, -2.5, 2.0, -2.3, 2.4, -1.9, 2.1, -2.2, 1.8, -2.0, 1.9, -1.7, 2.0, -1.6, 1.8,
 -1.5, 1.7, -1.8, 1.4, -1.6, 1.5, -1.3, 1.6, -1.5, 1.2, -1.4, 1.3, -1.1, 1.4, -1.2, 1.0, -1.3, 1.1, -1.0, 1.2, -0.9, 1.0, -1.1, 0.8, -1.0,
 0.9, -0.8, 1.0, -0.9, 0.7, -1.0, 0.8, -0.7, 0.9, -0.6, 0.8, -0.9, 0.7, -0.6, 0.8, -0.7, 0.6, -0.8, 0.7, -0.5, 0.6, -0.7, 0.5, -0.6, 0.7,
 0.5, -0.6, 0.4, -0.5, 0.6, -0.4, 0.5, -0.7, 0.4, -0.5, 0.6, -0.3, 0.5, -0.6, 0.4, -0.5, 0.3, -0.6, 0.5, -0.4, 0.6, -0.5, 0.4, -0.3, 0.5,
 -0.5, 0.4, -0.6, 0.5, -0.3, 0.6, -0.4, 0.5, -0.5, 0.3, -0.6, 0.4, -0.5, 0.6, -0.4, 0.3, -0.5, 0.5, -0.6, 0.4, -0.3, 0.5, -0.4, 0.6, -0.5,
 0.4, -0.5, 0.3, -0.6, 0.5, -0.4, 0.6, -0.3, 0.5, -0.5, 0.4, -0.6, 0.3, -0.4, 0.5, -0.5, 0.6, -0.4, 0.3, -0.5, 0.4, -0.3, 0.5, -0.4, 0.2,
]

IMS = [
 -1.5, 1.0, 4.9, -5.8, 0.5, 2.3, -0.8, 1.2, 0.3, -1.5, 0.9, -0.2, -1.0, 0.2, 1.5, 3.1, 0.4, 1.0, 2.6, -0.8, 1.2, 3.0, 0.2, -2.5, -5.25,
 4.8, 0.5, -0.8, 1.5, 4.0, 0.2, -4.5, 1.0, -0.5, 2.6, -1.0, -4.2, 0.8, 1.3, 0.3, -1.0, 1.5, 2.8, -0.6, -4.9, 0.5, 3.3, -4.0, 0.8, 3.3,
 -0.5, 1.2, -1.5, 0.8, 4.9, -4.2, 0.5, 1.0, -1.2, 0.2, 4.7, -2.5, 0.4, 2.5, -0.5, -1.2, 0.5, 3.4, -1.8, -3.5, 0.8, 1.5, 5.5, -4.7, 0.6,
 -0.5, -3.3, 0.4, 2.0, 0.8, -1.0, 3.2, 1.0, -0.3, 0.5, 2.0, -0.5, 0.2, 1.2, -0.8, 0.5, 3.1, 0.2, -2.5, 0.6, 3.4, -0.5, -3.9, 0.7, 2.8,
 -2.5, 0.5, 2.0, 1.5, -0.5, 0.8, 1.2, -1.0, 2.1, 0.4, -1.5, 0.6, 2.0, 0.3, -4.5, 4.6, -0.8, 0.6, -3.0, 1.2, 0.2, 4.8, -1.0, -5.4, 1.5,
 0.8, 3.8, -0.5, -3.4, 0.6, 2.9, 0.2, -5.2, 0.5, 3.8, -1.0, -5.2, 1.2, 3.2, -0.8, -4.0, 0.5, 2.5, -1.2, 1.8, -2.0, 0.5, 6.5, -4.2, 7.0,
 -8.8, 2.1, -6.9, 3.0, 8.25, -4.5, 1.5, 4.2, -2.0, -5.8, 1.0, 6.1, -1.5, -4.8, 4.9, -4.7, 9.3, -4.2, 2.0, 3.5, -3.0, 0.5, 3.2, 6.3, -3.0,
 2.0, -2.5, 4.0, -5.9, 8.2, -4.6, 1.5, 3.0, -2.5, 0.8, 2.6, -3.8, 1.0, 2.2, -2.0, 0.5, 3.5, -1.8, -3.5, 1.2, 2.8, -0.8, -2.5, 1.0, 5.6,
 -6.7, 0.8, 4.2, -1.5, -3.0, 2.0, 3.5, -0.5, -3.5, 1.2, 2.8, -2.2, 0.4, 3.6, -0.8, -3.2, -4.0, 1.5, 3.0, -0.5, -3.0, 0.8, 3.8, -1.0, -2.8,
 1.5, 3.2, -0.6, -3.5, 0.5, 3.0, 1.8, -2.6, -0.5, 4.2, -0.8, -3.3, 1.0, 2.6, 0.2, -3.0, 0.8, 4.4, -1.2, -3.5, 0.6, 2.5, -1.0, -2.8, -5.9,
 1.0, 4.4, -0.8, -2.5, 2.0, 3.0, -1.5, -3.8, 0.5, 3.5, -0.5, -2.8, 1.8, 3.2, -1.0, -3.5, 0.8, 4.0, -0.3, -5.9, 0.5, 2.8, -1.5, -2.0, 3.0,
 4.0, -1.2, -3.2, 0.8, 3.0, -0.5, -2.8, 1.5, 3.6, -0.6, -3.0, 0.5, 2.5, 4.4, -1.0, -4.2, 1.2, 3.0, -0.8, -2.0, 3.6, -0.5, -1.5, 1.0, -0.5,
]

TRACES = [GWBD, GWBE, FACH, TNS, GWBC, ABH, KOGO, BEDO, PYRM, IMS]
for name, tr in zip(STATIONS, TRACES):
    assert len(tr) in (300, 600), (name, len(tr))

FONT = "Liberation Sans, Arial, Helvetica, sans-serif"
FS = 37
N = len(STATIONS)

fig = make_subplots(rows=N, cols=1, shared_xaxes=True, vertical_spacing=0)

for i, (name, tr) in enumerate(zip(STATIONS, TRACES)):
    t = np.arange(len(tr)) * (T_END / len(tr))
    fig.add_trace(
        go.Scatter(x=t, y=tr, mode="lines", line=dict(color="black", width=2),
                   showlegend=False, hoverinfo="skip"),
        row=i + 1, col=1,
    )
    fig.update_yaxes(range=[-10, 10], showticklabels=False, ticks="", showgrid=False,
                     zeroline=False, showline=True, linecolor="black", linewidth=2,
                     mirror=True, row=i + 1, col=1)
    fig.update_xaxes(range=[0, 60], tickvals=XTICKS, ticks="inside", ticklen=7,
                     tickwidth=1.5, tickcolor="black", showgrid=False, zeroline=False,
                     showline=True, linecolor="black", linewidth=2, mirror="ticks",
                     showticklabels=False, row=i + 1, col=1)
    fig.add_annotation(text=name, xref="paper", yref="paper", x=-0.0123,
                       y=1 - (i + 0.5) / N, xanchor="right", yanchor="middle",
                       showarrow=False, font=dict(family=FONT, size=FS, color="black"))

# tick labels of the bottom axis, placed on its own data scale
for v in XTICKS:
    fig.add_annotation(text=str(v), xref="x%d" % N, yref="paper", x=v, y=-0.0138,
                       xanchor="center", yanchor="middle", showarrow=False,
                       font=dict(family=FONT, size=FS, color="black"))

fig.add_annotation(text="<b>" + TITLE + "</b>", xref="paper", yref="paper", x=0.504, y=1.0156,
                   xanchor="center", yanchor="middle", showarrow=False,
                   font=dict(family=FONT, size=FS, color="black"))
fig.add_annotation(text="<b>" + XLABEL + "</b>", xref="paper", yref="paper", x=0.448, y=-0.0431,
                   xanchor="center", yanchor="middle", showarrow=False,
                   font=dict(family=FONT, size=FS, color="black"))

# page has an 8px body margin, so the figure is 16px smaller than the window
fig.update_layout(width=1989, height=1825, paper_bgcolor="white", plot_bgcolor="white",
                  margin=dict(l=166, r=28, t=99, b=126), font=dict(family=FONT))

fig.write_html("out.html")
